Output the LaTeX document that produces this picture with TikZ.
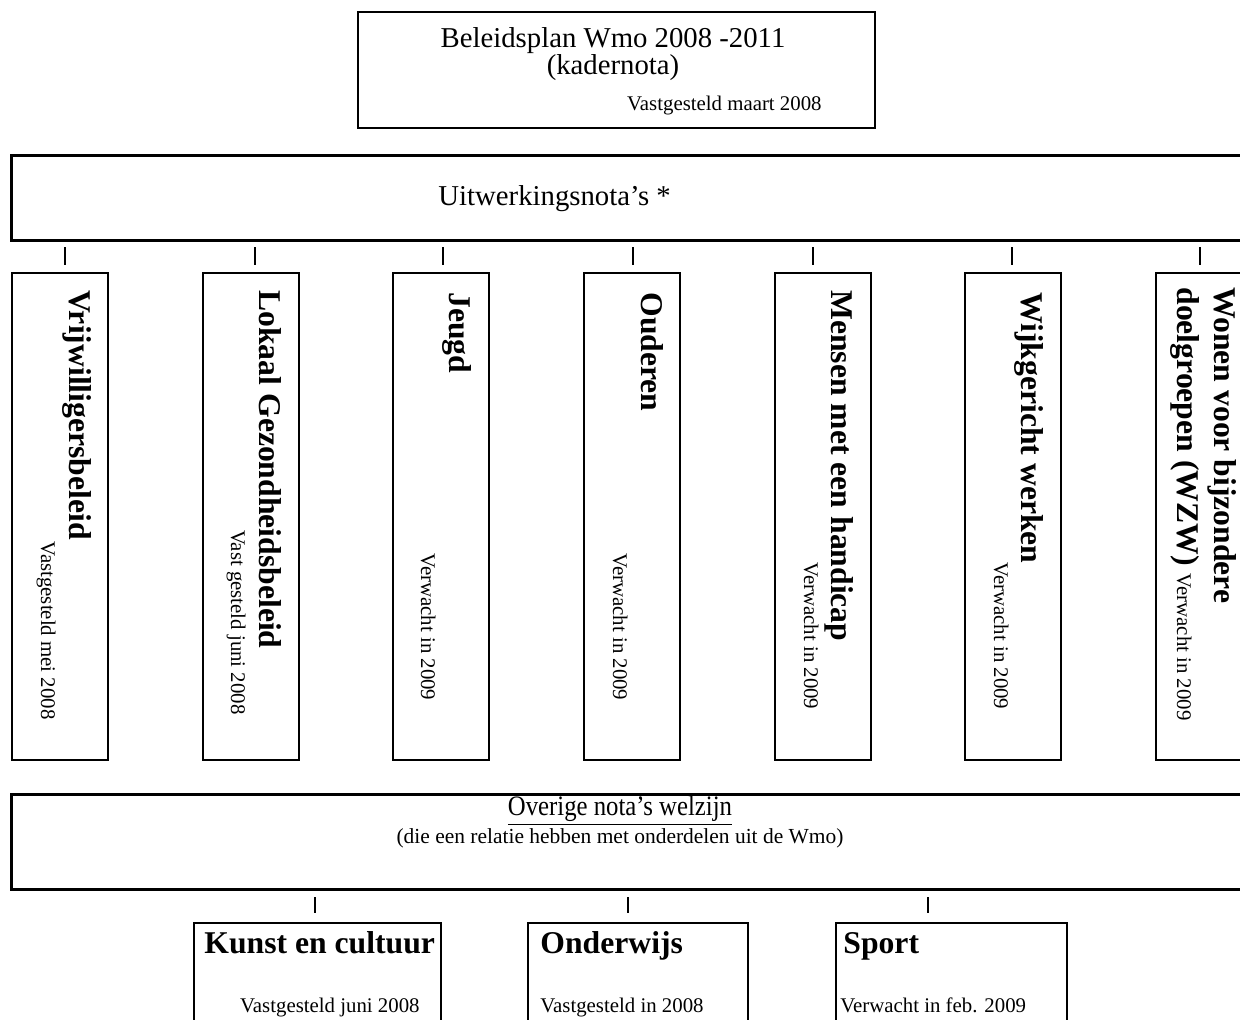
\documentclass[tikz,border=0pt]{standalone}
\usepackage{fontspec}
\setmainfont{Liberation Serif}
\newfontfamily\narrowfont[FakeStretch=0.88]{Liberation Serif}
\usepackage{tikz}

\begin{document}
\begin{tikzpicture}[x=0.48pt, y=-0.48pt,
  box/.style={draw, line width=1.1pt, inner sep=0pt, anchor=north west},
  widebox/.style={draw, line width=1.4pt, inner sep=0pt, anchor=north west},
  sized/.style 2 args={minimum width=#1*0.48pt, minimum height=#2*0.48pt},
  txt/.style={inner sep=0pt, font=\fontsize{13.8}{16}\selectfont},
  title/.style={inner sep=0pt, font=\fontsize{15.2}{18}\selectfont\bfseries},
  small/.style={inner sep=0pt, font=\fontsize{10}{12}\selectfont},
  tick/.style={line width=0.9pt}]

  \useasboundingbox (0,0) rectangle (1240,1019);
  \clip (0,0) rectangle (1240,1019);

  % kadernota
  \node[box, sized={517}{116}] (plan) at (357,11) {};
  \node[txt, anchor=base] (plantitel) at (613,47) {Beleidsplan Wmo 2008 -2011};
  \node[txt, anchor=base] (plansub) at (613,74) {(kadernota)};
  \node[small, anchor=base east] (plandatum) at (822,110) {Vastgesteld maart 2008};

  % uitwerkingsnota's
  \node[widebox, sized={1250}{85}] (uitw) at (10,154) {};
  \node[txt, anchor=base west] (uitwtitel) at (438,205) {Uitwerkingsnota’s *};

  \foreach \n/\x/\t in {1/11/65, 2/202/255, 3/392/443, 4/583/633, 5/774/813, 6/964/1012, 7/1155/1200} {
    \node[box, sized={96}{487}] (nota\n) at (\x,272) {};
    \draw[tick] (\t,247) -- (\t,265);
  }

  \node[title, rotate=-90, anchor=base west] (t1) at (69,290) {Vrijwilligersbeleid};
  \node[small, rotate=-90, anchor=base east] (d1) at (41,720) {Vastgesteld mei 2008};
  \node[title, rotate=-90, anchor=base west] (t2) at (259,290) {Lokaal Gezondheidsbeleid};
  \node[small, rotate=-90, anchor=base east] (d2) at (231,715) {Vast gesteld juni 2008};
  \node[title, rotate=-90, anchor=base west] (t3) at (449,292) {Jeugd};
  \node[small, rotate=-90, anchor=base west] (d3) at (421,553) {Verwacht in 2009};
  \node[title, rotate=-90, anchor=base west] (t4) at (641,292) {Ouderen};
  \node[small, rotate=-90, anchor=base west] (d4) at (613,553) {Verwacht in 2009};
  \node[title, rotate=-90, anchor=base west] (t5) at (831,290) {Mensen met een handicap};
  \node[small, rotate=-90, anchor=base west] (d5) at (804,562) {Verwacht in 2009};
  \node[title, rotate=-90, anchor=base west] (t6) at (1021,292) {Wijkgericht werken};
  \node[small, rotate=-90, anchor=base west] (d6) at (994,562) {Verwacht in 2009};
  \node[title, rotate=-90, anchor=base west] (t7) at (1214,287) {Wonen voor bijzondere};
  \node[title, rotate=-90, anchor=base west] (t7b) at (1177,287)
    {doelgroepen (WZW) {\mdseries\fontsize{10}{12}\selectfont Verwacht in 2009}};

  % overige nota's
  \node[widebox, sized={1250}{95}] (overig) at (10,793) {};
  \node[inner sep=0pt, anchor=base, font=\narrowfont\fontsize{13.5}{16}\selectfont] (overigtitel)
    at (620,815) {\underline{Overige nota’s welzijn}};
  \node[inner sep=0pt, anchor=base, font=\fontsize{10.3}{12}\selectfont] (overigsub)
    at (620,843) {(die een relatie hebben met onderdelen uit de Wmo)};

  \foreach \t in {315, 628, 928}
    \draw[tick] (\t,897) -- (\t,913);

  \node[box, sized={247}{130}] (kunst) at (193,922) {};
  \node[box, sized={220}{130}] (onderwijs) at (527,922) {};
  \node[box, sized={231}{130}] (sport) at (835,922) {};

  \node[title, anchor=base west] (kunsttitel) at (204,953) {Kunst en cultuur};
  \node[small, anchor=base east] (kunstdatum) at (420,1012) {Vastgesteld juni 2008};
  \node[title, anchor=base west] (onderwijstitel) at (540,953) {Onderwijs};
  \node[small, anchor=base west] (onderwijsdatum) at (540,1012) {Vastgesteld in 2008};
  \node[title, anchor=base west] (sporttitel) at (843,953) {Sport};
  \node[small, anchor=base west] (sportdatum) at (840,1012) {Verwacht in feb. 2009};
\end{tikzpicture}
\end{document}
